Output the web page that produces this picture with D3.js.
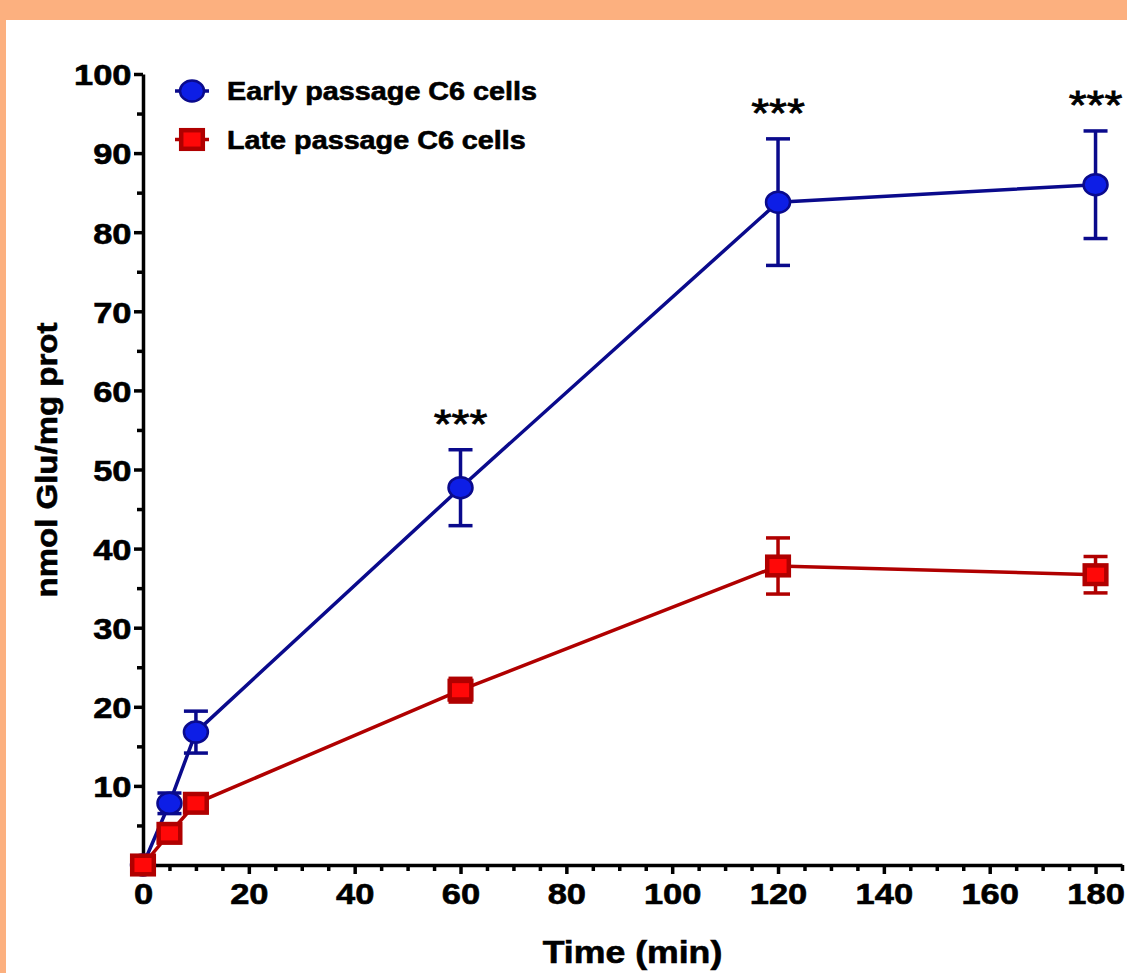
<!DOCTYPE html>
<html>
<head>
  <meta charset="utf-8">
  <title>Glutamate uptake C6 cells</title>
  <script src="https://cdn.jsdelivr.net/npm/d3@7"></script>
  <style>
    body { margin: 0; background: #fcb07f; }
    svg text { font-family: "Liberation Sans", Arial, sans-serif; }
    .heavy { stroke: black; stroke-width: 0.6px; }
  </style>
</head>
<body>
<script>
  // data
  var times = [0, 5, 10, 60, 120, 180];
  var early = [0, 7.8, 16.8, 47.7, 83.8, 86.0];
  var earlyErr = [0, 1.3, 2.65, 4.8, 8.0, 6.8];
  var late = [0, 4.0, 7.8, 22.1, 37.8, 36.7];
  var lateErr = [0, 0.5, 0.8, 1.5, 3.55, 2.3];
  var starTimes = [60, 120, 180];
  var xTicks = [0, 20, 40, 60, 80, 100, 120, 140, 160, 180];
  var yTicks = [10, 20, 30, 40, 50, 60, 70, 80, 90, 100];
  var seriesNames = ["Early passage C6 cells", "Late passage C6 cells"];

  var width = 1127;
  var height = 973;
  var stretch = 1.15; // text in the figure is a bit wide

  var svg = d3.select("body")
    .append("svg")
    .attr("width", width)
    .attr("height", height)
    .style("display", "block");

  // orange frame at top and left, white page
  svg.append("rect")
    .attr("x", 6).attr("y", 20)
    .attr("width", width - 6).attr("height", height - 20)
    .attr("fill", "white");

  var x = d3.scaleLinear().domain([0, 185]).range([143, 1122]);
  var y = d3.scaleLinear().domain([0, 100]).range([865, 74]);

  var blueLine = "#0a0a8c", blueFill = "#0d1ee6";
  var redLine = "#b00000", redFill = "#ff0808";

  // axes
  var minorX = d3.range(0, 186, 5).filter(function(d) { return d % 20 != 0; });
  var minorY = d3.range(5, 100, 10);

  svg.append("g")
    .attr("transform", "translate(0," + y(0) + ")")
    .call(d3.axisBottom(x).tickValues(minorX).tickSize(6).tickSizeOuter(0).tickFormat(""))
    .call(function(g) { g.select(".domain").remove(); });

  svg.append("g")
    .attr("transform", "translate(" + x(0) + ",0)")
    .call(d3.axisLeft(y).tickValues(minorY).tickSize(6).tickSizeOuter(0).tickFormat(""))
    .call(function(g) { g.select(".domain").remove(); });

  var xAxis = svg.append("g")
    .attr("class", "x axis")
    .attr("transform", "translate(0," + y(0) + ")")
    .call(d3.axisBottom(x).tickValues(xTicks).tickSize(9).tickSizeOuter(0));

  xAxis.selectAll("text")
    .attr("y", 39)
    .attr("dy", null)
    .attr("transform", "scale(" + stretch + ",1)");

  var yAxis = svg.append("g")
    .attr("class", "y axis")
    .attr("transform", "translate(" + x(0) + ",0)")
    .call(d3.axisLeft(y).tickValues(yTicks).tickSize(9).tickSizeOuter(0));

  yAxis.selectAll("text")
    .attr("x", -10)
    .attr("dy", "0.36em")
    .attr("transform", "scale(" + stretch + ",1)");

  svg.selectAll(".axis text")
    .attr("fill", "black")
    .attr("class", "heavy")
    .style("font-size", "30px")
    .style("font-weight", "bold");

  svg.selectAll(".tick line").attr("stroke", "black").attr("stroke-width", 3.5);
  svg.selectAll(".domain").attr("stroke", "black").attr("stroke-width", 3.5);

  // axis titles
  svg.append("text")
    .attr("class", "heavy")
    .attr("transform", "translate(" + ((x(0) + x(185)) / 2) + ",963) scale(" + stretch + ",1)")
    .attr("text-anchor", "middle")
    .style("font-size", "31px")
    .style("font-weight", "bold")
    .text("Time (min)");

  svg.append("text")
    .attr("class", "heavy")
    .attr("transform", "translate(57,460) rotate(-90) scale(1.1,1)")
    .attr("text-anchor", "middle")
    .style("font-size", "30px")
    .style("font-weight", "bold")
    .text("nmol Glu/mg prot");

  var series = [
    { values: early, err: earlyErr, line: blueLine, fill: blueFill, shape: "circle" },
    { values: late, err: lateErr, line: redLine, fill: redFill, shape: "square" }
  ];

  var line = d3.line()
    .x(function(d, i) { return x(times[i]); })
    .y(function(d) { return y(d); });

  series.forEach(function(s) {
    svg.append("path")
      .attr("d", line(s.values))
      .attr("fill", "none")
      .attr("stroke", s.line)
      .attr("stroke-width", 3.5);
  });

  function drawMarker(g, s, cx, cy) {
    if (s.shape == "circle") {
      g.append("ellipse")
        .attr("cx", cx).attr("cy", cy)
        .attr("rx", 12).attr("ry", 10.5)
        .attr("fill", s.fill)
        .attr("stroke", s.line)
        .attr("stroke-width", 2.5);
    } else {
      g.append("rect")
        .attr("x", cx - 10.8).attr("y", cy - 9.3)
        .attr("width", 21.6).attr("height", 18.6)
        .attr("fill", s.fill)
        .attr("stroke", s.line)
        .attr("stroke-width", 4.5);
    }
  }

  series.forEach(function(s) {
    var g = svg.append("g");
    s.values.forEach(function(v, i) {
      var e = s.err[i];
      var cx = x(times[i]);
      if (e > 0) {
        g.append("line")
          .attr("x1", cx).attr("x2", cx)
          .attr("y1", y(v - e)).attr("y2", y(v + e))
          .attr("stroke", s.line).attr("stroke-width", 3.5);
        [v - e, v + e].forEach(function(c) {
          g.append("line")
            .attr("x1", cx - 12).attr("x2", cx + 12)
            .attr("y1", y(c)).attr("y2", y(c))
            .attr("stroke", s.line).attr("stroke-width", 3.5);
        });
      }
      drawMarker(g, s, cx, y(v));
    });
  });

  // significance stars above the early passage error bars
  starTimes.forEach(function(t) {
    var i = times.indexOf(t);
    var top = y(early[i] + earlyErr[i]);
    svg.append("text")
      .attr("transform", "translate(" + x(t) + "," + (top - 12) + ") scale(" + stretch + ",1)")
      .attr("text-anchor", "middle")
      .attr("stroke", "black")
      .attr("stroke-width", 0.8)
      .style("font-size", "40px")
      .text("***");
  });

  // legend
  var legend = svg.append("g");
  seriesNames.forEach(function(name, i) {
    var s = series[i];
    var cy = 91 + i * 48.5;
    legend.append("line")
      .attr("x1", 175).attr("x2", 209)
      .attr("y1", cy).attr("y2", cy)
      .attr("stroke", s.line).attr("stroke-width", 3.5);
    drawMarker(legend, s, 192, cy);
    legend.append("text")
      .attr("class", "heavy")
      .attr("transform", "translate(227," + (cy + 9) + ") scale(" + stretch + ",1)")
      .style("font-size", "25px")
      .style("font-weight", "bold")
      .text(name);
  });
</script>
</body>
</html>
